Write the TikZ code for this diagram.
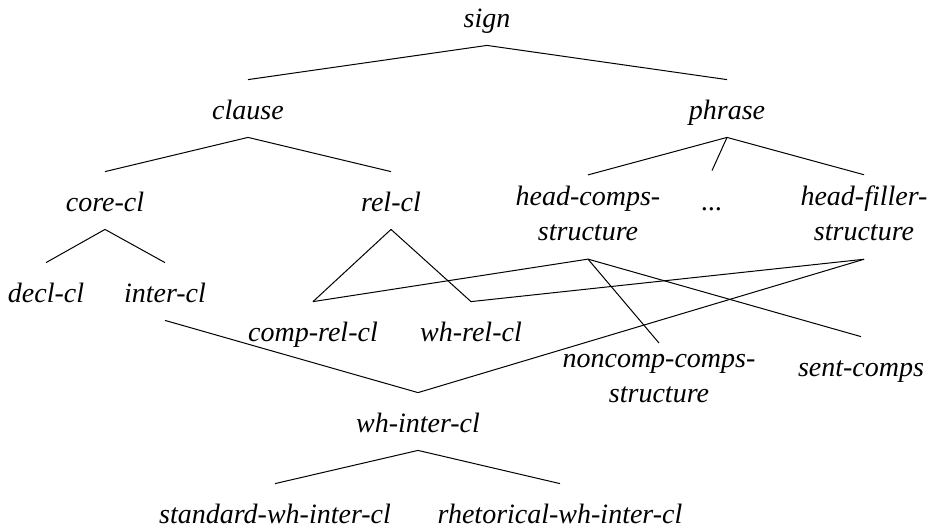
\documentclass[tikz,border=0pt]{standalone}
\usepackage{fontspec}
\setmainfont{Liberation Serif}[ItalicFont={Liberation Serif Italic}]
\newcommand{\typestrut}{\rule[-3.5pt]{0pt}{17.5pt}}
\tikzset{
  every node/.style={font=\fontsize{14}{17.5}\selectfont\itshape},
  type/.style={inner xsep=2pt,inner ysep=5.5pt,align=center,
    execute at begin node=\typestrut,execute at end node=\typestrut},
  isa/.style={draw=black,line width=0.5pt},
}

\begin{document}
\begin{tikzpicture}[x=0.5pt,y=-0.5pt]
\useasboundingbox (0,0) rectangle (936,527);

\node[type] (sign) at (487,16.5) {sign};
\node[type] (clause) at (248,108.5) {clause};
\node[type] (phrase) at (727,108.5) {phrase};
\node[type] (corecl) at (105,200.5) {core-cl};
\node[type] (relcl) at (391,200.5) {rel-cl};
\node[type] (hdcomps) at (588,217) {head-comps-\\structure};
\node[type] (more) at (712,199.5) {...};
\node[type] (hdfiller) at (864,217) {head-filler-\\structure};
\node[type] (declcl) at (46,291.5) {decl-cl};
\node[type] (intercl) at (165,291.5) {inter-cl};
\node[type] (comprelcl) at (313,330.5) {comp-rel-cl};
\node[type] (whrelcl) at (471,330.5) {wh-rel-cl};
\node[type] (noncomp) at (659,382) {noncomp-comps-\\structure};
\node[type] (sentcomps) at (861,365.5) {sent-comps};
\node[type] (whintercl) at (418,421.5) {wh-inter-cl};
\node[type] (stdwh) at (275,512.5) {standard-wh-inter-cl};
\node[type] (rhetwh) at (560,512.5) {rhetorical-wh-inter-cl};

\draw[isa] (sign.south) -- (clause.north);
\draw[isa] (sign.south) -- (phrase.north);
\draw[isa] (clause.south) -- (corecl.north);
\draw[isa] (clause.south) -- (relcl.north);
\draw[isa] (phrase.south) -- (hdcomps.north);
\draw[isa] (phrase.south) -- (more.north);
\draw[isa] (phrase.south) -- (hdfiller.north);
\draw[isa] (corecl.south) -- (declcl.north);
\draw[isa] (corecl.south) -- (intercl.north);
\draw[isa] (relcl.south) -- (comprelcl.north);
\draw[isa] (relcl.south) -- (whrelcl.north);
\draw[isa] (hdcomps.south) -- (comprelcl.north);
\draw[isa] (hdcomps.south) -- (noncomp.north);
\draw[isa] (hdcomps.south) -- (sentcomps.north);
\draw[isa] (hdfiller.south) -- (whrelcl.north);
\draw[isa] (hdfiller.south) -- (whintercl.north);
\draw[isa] (intercl.south) -- (whintercl.north);
\draw[isa] (whintercl.south) -- (stdwh.north);
\draw[isa] (whintercl.south) -- (rhetwh.north);

\end{tikzpicture}
\end{document}
